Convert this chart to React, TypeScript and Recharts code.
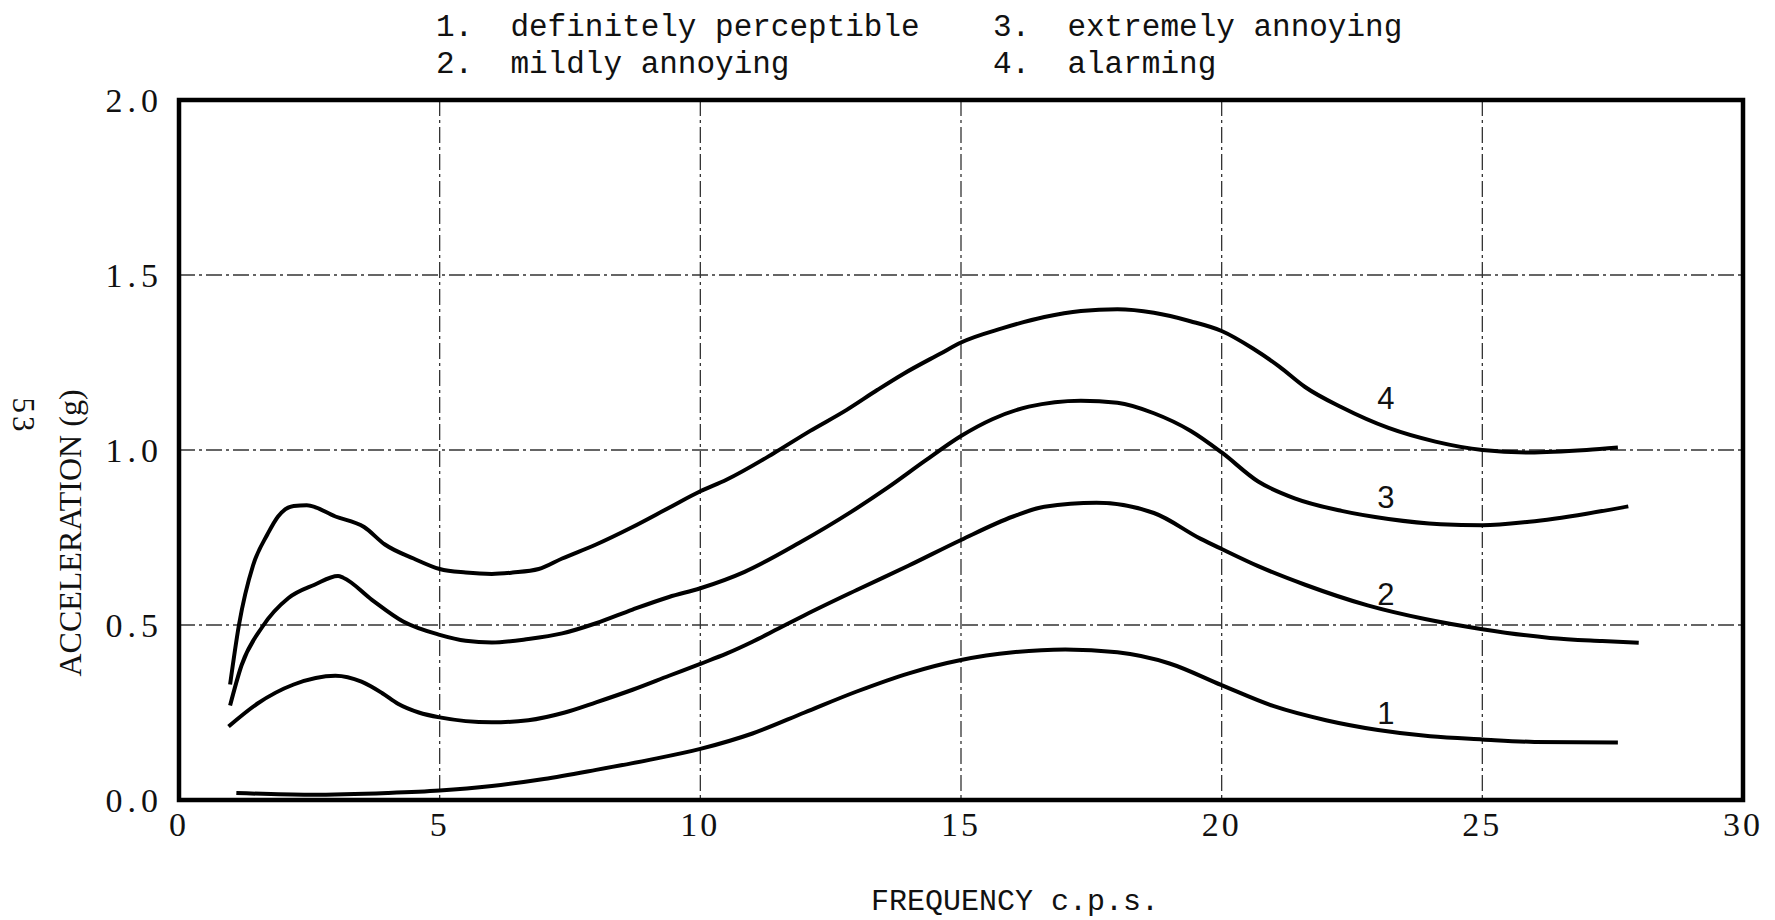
import React from 'react'
import {
  LineChart,
  Line,
  XAxis,
  YAxis,
  CartesianGrid,
  ReferenceArea,
  ReferenceDot,
  Legend,
  Label,
} from 'recharts'

const seriesNames = ['definitely perceptible', 'mildly annoying', 'extremely annoying', 'alarming']

const xTicks = [0, 5, 10, 15, 20, 25, 30]
const yTicks = [0, 0.5, 1.0, 1.5, 2.0]

// curve 1 - definitely perceptible
const freq1 = [1.1, 2.5, 4, 5, 6, 7, 8, 9, 10, 11, 12, 13, 14, 15, 16, 17, 18, 19, 20, 21, 22, 23, 24, 25, 26, 27.6]
const accel1 = [0.02, 0.015, 0.02, 0.027, 0.04, 0.06, 0.086, 0.114, 0.146, 0.19, 0.25, 0.31, 0.362, 0.4, 0.422, 0.43, 0.422, 0.39, 0.328, 0.268, 0.228, 0.2, 0.182, 0.173, 0.166, 0.164]

// curve 2 - mildly annoying
const freq2 = [0.95, 1.5, 2.2, 3.0, 3.5, 3.9, 4.2, 4.6, 5, 6, 6.7, 7.4, 8, 8.7, 9.4, 10, 10.5, 11, 11.5, 12, 13, 14, 15, 16, 16.6, 17.6, 18.7, 19.6, 20, 20.7, 21.6, 22.8, 23.9, 25, 26.3, 27.3, 28.0]
const accel2 = [0.21, 0.275, 0.33, 0.355, 0.338, 0.305, 0.275, 0.25, 0.236, 0.222, 0.228, 0.25, 0.279, 0.315, 0.355, 0.389, 0.418, 0.452, 0.49, 0.528, 0.6, 0.67, 0.743, 0.81, 0.838, 0.849, 0.82, 0.746, 0.717, 0.668, 0.615, 0.556, 0.517, 0.488, 0.463, 0.454, 0.449]

// curve 3 - extremely annoying
const freq3 = [0.98, 1.2, 1.6, 2.1, 2.6, 3.05, 3.15, 3.7, 4.3, 5, 5.5, 6, 6.7, 7.35, 8, 8.7, 9.4, 10, 10.85, 11.9, 12.9, 13.6, 14.3, 15, 15.6, 16.3, 17.3, 18, 18.7, 19.4, 20, 20.7, 21.4, 22.3, 23.2, 24.2, 25, 25.9, 27, 27.8]
const accel3 = [0.27, 0.385, 0.495, 0.577, 0.615, 0.64, 0.635, 0.572, 0.51, 0.472, 0.455, 0.45, 0.46, 0.476, 0.505, 0.544, 0.58, 0.605, 0.652, 0.735, 0.824, 0.893, 0.968, 1.04, 1.088, 1.124, 1.141, 1.135, 1.105, 1.055, 0.993, 0.91, 0.862, 0.826, 0.803, 0.788, 0.785, 0.795, 0.818, 0.839]

// curve 4 - alarming
const freq4 = [0.98, 1.15, 1.42, 1.7, 1.9, 2.2, 2.45, 3.0, 3.55, 3.95, 4.5, 5, 5.5, 6, 6.4, 6.9, 7.35, 8, 8.7, 9.4, 10, 10.5, 11.4, 12.1, 12.8, 13.4, 13.9, 14.6, 15, 15.8, 16.6, 17.3, 18, 18.7, 19.4, 20, 20.6, 21.1, 21.6, 22.3, 23.2, 24.1, 25, 25.9, 27, 27.6]
const accel4 = [0.33, 0.5, 0.67, 0.76, 0.81, 0.84, 0.842, 0.81, 0.78, 0.73, 0.69, 0.66, 0.65, 0.646, 0.65, 0.66, 0.69, 0.73, 0.78, 0.835, 0.882, 0.915, 0.99, 1.054, 1.114, 1.172, 1.218, 1.275, 1.307, 1.348, 1.38, 1.397, 1.402, 1.392, 1.368, 1.34, 1.29, 1.239, 1.18, 1.122, 1.063, 1.024, 1.0, 0.993, 1.0, 1.007]

// where the curve numbers sit
const labelFreq = [23.15, 23.15, 23.15, 23.15]
const labelAccel = [0.25, 0.59, 0.865, 1.15]

const zip = (xs: number[], ys: number[]) => xs.map((x, i) => ({ x, y: ys[i] }))

const series = [
  zip(freq1, accel1),
  zip(freq2, accel2),
  zip(freq3, accel3),
  zip(freq4, accel4),
]

const MONO = '"Liberation Mono", "DejaVu Sans Mono", monospace'
const SERIF = '"Liberation Serif", "DejaVu Serif", serif'

const LegendBlock = () => (
  <div
    style={{
      position: 'relative',
      width: 1775,
      height: 80,
      fontFamily: MONO,
      fontSize: 31,
      color: '#111',
    }}
  >
    {seriesNames.map((name, i) => (
      <div
        key={name}
        style={{
          position: 'absolute',
          left: i < 2 ? 436 : 993,
          top: (i % 2) * 37 + 9,
          lineHeight: '37px',
          whiteSpace: 'pre',
        }}
      >
        {`${i + 1}.  ${name}`}
      </div>
    ))}
  </div>
)

export default function App() {
  return (
    <div style={{ position: 'absolute', left: 0, top: 0, width: 1775, height: 920, background: '#fff' }}>
      <LineChart width={1775} height={920} margin={{ top: 20, right: 32, bottom: 60, left: 99 }}>
        <Legend
          verticalAlign="top"
          content={() => <LegendBlock />}
          wrapperStyle={{ top: 0, left: 0, width: 1775, height: 80 }}
        />
        <CartesianGrid stroke="#333" strokeWidth={1.3} strokeDasharray="16 4 3 4" />
        <XAxis
          type="number"
          dataKey="x"
          domain={[0, 30]}
          ticks={xTicks}
          axisLine={false}
          tickLine={false}
          tickSize={0}
          tickMargin={12}
          height={60}
          tick={{ fill: '#111', fontSize: 34, fontFamily: SERIF, letterSpacing: 3 }}
        >
          <Label
            content={() => (
              <text x={1015} y={902} textAnchor="middle" dominantBaseline="central" fontFamily={MONO} fontSize={30} fill="#111">
                FREQUENCY c.p.s.
              </text>
            )}
          />
        </XAxis>
        <YAxis
          type="number"
          domain={[0, 2]}
          ticks={yTicks}
          axisLine={false}
          tickLine={false}
          tickSize={0}
          tickMargin={16}
          width={80}
          tickFormatter={(v: number) => v.toFixed(1)}
          tick={{ fill: '#111', fontSize: 34, fontFamily: SERIF, letterSpacing: 5 }}
        >
          <Label
            content={() => (
              <g>
                <text
                  x={70}
                  y={533}
                  textAnchor="middle"
                  dominantBaseline="central"
                  transform="rotate(-90 70 533)"
                  fontFamily={SERIF}
                  fontSize={32}
                  fill="#111"
                >
                  ACCELERATION (g)
                </text>
                <text
                  x={23}
                  y={416}
                  textAnchor="middle"
                  dominantBaseline="central"
                  transform="rotate(90 23 416)"
                  fontFamily={SERIF}
                  fontSize={31}
                  letterSpacing={3}
                  fill="#111"
                >
                  53
                </text>
              </g>
            )}
          />
        </YAxis>
        <ReferenceArea x1={0} x2={30} y1={0} y2={2} fill="none" fillOpacity={0} stroke="#000" strokeWidth={4.5} />
        {series.map((data, i) => (
          <Line
            key={seriesNames[i]}
            data={data}
            dataKey="y"
            name={seriesNames[i]}
            type="monotone"
            stroke="#000"
            strokeWidth={4}
            dot={false}
            activeDot={false}
            isAnimationActive={false}
          />
        ))}
        {labelFreq.map((x, i) => (
          <ReferenceDot
            key={`lbl-${i}`}
            x={x}
            y={labelAccel[i]}
            r={0}
            fill="none"
            stroke="none"
            label={{ value: String(i + 1), position: 'center', fontSize: 31, fontFamily: '"Liberation Sans", Arial, sans-serif', fill: '#111' }}
          />
        ))}
      </LineChart>
    </div>
  )
}
